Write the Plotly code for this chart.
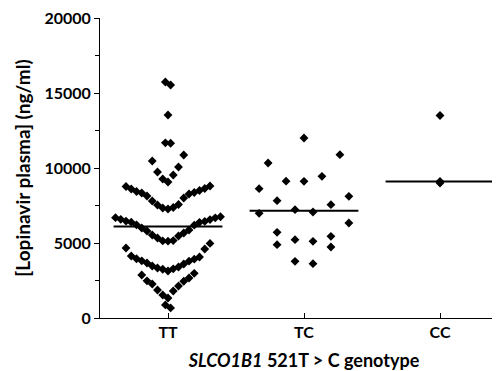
import numpy as np
import plotly.graph_objects as go

# ---- data (ng/ml) ----
categories = ["TT", "TC", "CC"]
tt_values = [670, 870,
             1333, 1533, 1800, 1867, 2133, 2267, 2450, 2480, 2667, 2867, 2980,
             3133, 3250, 3280, 3333, 3400, 3467, 3600, 3667, 3790, 3810, 3920, 3950,
             4067, 4133, 4600, 4667, 4970,
             5120, 5140, 5160, 5333, 5467, 5533, 5667, 5800, 5867, 6000, 6190, 6210,
             6380, 6390, 6440, 6460, 6560, 6580, 6680, 6690, 6750,
             7267, 7333, 7367, 7533, 7567, 7800, 8000, 8133, 8267, 8333, 8367, 8433,
             8500, 8600, 8633, 8767, 8800,
             9067, 9267, 9533, 9733, 10067, 10467, 10867,
             11650, 11680, 13533, 15533, 15733]
tc_values = [3622, 3778, 4733, 4889, 5111, 5222, 5444, 5711, 6333, 6980,
             7067, 7222, 7556, 7822, 8111, 8622, 9111, 9120, 9444, 10333, 10889, 12000]
cc_values = [8995, 9100, 13500]
y_ticks = [0, 5000, 10000, 15000, 20000]

groups = [tt_values, tc_values, cc_values]

BIN_W = 2000.0
BIN_START = 1000.0
HALF_SPREAD = 0.386     # max half-width of a row, in category units
MAX_STEP = 0.132        # max horizontal spacing between neighbours
MEDIAN_HALF = 0.4


def swarm_offsets(values):
    vals = np.asarray(values, dtype=float)
    bins = np.floor((vals - BIN_START) / BIN_W).astype(int)
    nmax = max(np.bincount(bins - bins.min()))
    step = MAX_STEP if nmax <= 1 else min(MAX_STEP, 2 * HALF_SPREAD / (nmax - 1))
    offs = np.zeros(len(vals))
    for b in np.unique(bins):
        idx = np.where(bins == b)[0]
        idx = idx[np.argsort(vals[idx], kind="stable")]
        n = len(idx)
        if n % 2:
            slots = [0.0]
            for k in range(1, n // 2 + 1):
                slots += [-k, k]
        else:
            slots = []
            for k in range(n // 2):
                slots += [k + 0.5, -(k + 0.5)]
        offs[idx] = np.array(slots[:n]) * step
    return offs


fig = go.Figure()
for i, vals in enumerate(groups):
    x = i + swarm_offsets(vals)
    fig.add_trace(go.Scatter(
        x=x, y=vals, mode="markers",
        marker=dict(symbol="diamond", size=6.8, color="black", line=dict(width=0)),
        showlegend=False, hoverinfo="y"))
    med = float(np.median(vals))
    fig.add_trace(go.Scatter(
        x=[i - MEDIAN_HALF, i + MEDIAN_HALF], y=[med, med], mode="lines",
        line=dict(color="black", width=2), showlegend=False, hoverinfo="skip"))

FONT = "Lato"
fig.update_layout(
    width=500, height=371,
    margin=dict(l=92, r=0, t=10, b=61),
    paper_bgcolor="white", plot_bgcolor="white",
    font=dict(family=FONT, color="black", size=16, weight="bold"),
)
fig.update_xaxes(
    range=[-0.5, 2.5], tickvals=[0, 1, 2], ticktext=categories,
    showline=True, linecolor="black", linewidth=1,
    ticks="inside", ticklen=5, tickcolor="black",
    showgrid=False, zeroline=False,
    tickfont=dict(family=FONT, size=16, weight="bold"),
    ticklabelstandoff=0,
    title=dict(text="<i>SLCO1B1</i> 521T > C genotype",
               font=dict(family=FONT, size=18, weight="bold"), standoff=14),
)
fig.update_yaxes(
    range=[0, 20000], tickvals=y_ticks, ticktext=[str(v) for v in y_ticks],
    showline=True, linecolor="black", linewidth=1,
    ticks="outside", ticklen=5, tickcolor="black",
    ticklabeloverflow="allow",
    minor=dict(dtick=2500, tick0=0, ticks="outside", ticklen=4, tickcolor="black"),
    showgrid=False, zeroline=False,
    tickfont=dict(family=FONT, size=16, weight="bold"),
    title=dict(text="[Lopinavir plasma] (ng/ml)",
               font=dict(family=FONT, size=19, weight="bold"), standoff=8),
)

fig.write_html("out.html")
